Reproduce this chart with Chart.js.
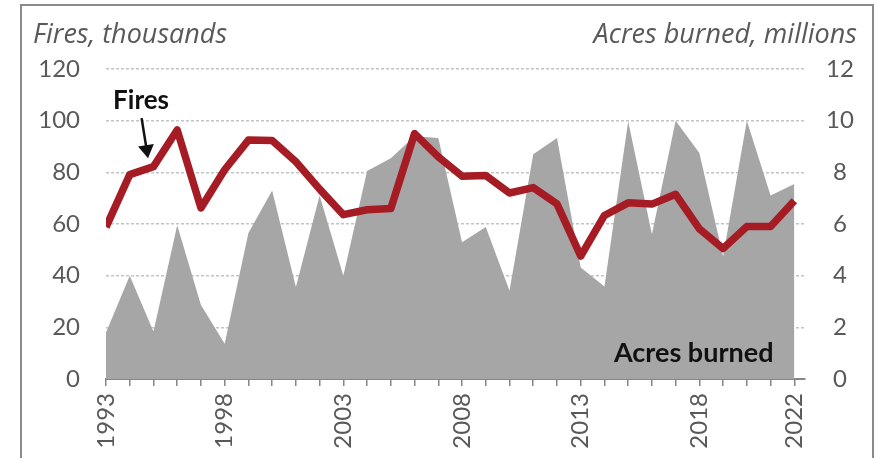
<!DOCTYPE html>
<html><head><meta charset="utf-8">
<script src="https://cdn.jsdelivr.net/npm/chart.js@4.4.1/dist/chart.umd.min.js"></script>
<style>html,body{margin:0;padding:0;background:#fff;}#wrap{width:882px;height:458px;}</style>
</head><body><div id="wrap"><canvas id="c" width="882" height="458"></canvas></div>
<script>
const years = [1993,1994,1995,1996,1997,1998,1999,2000,2001,2002,2003,2004,2005,2006,2007,2008,2009,2010,2011,2012,2013,2014,2015,2016,2017,2018,2019,2020,2021,2022];
const fires = [58.8,79.1,82.2,96.4,66.2,81.0,92.5,92.3,84.1,73.5,63.6,65.5,66.0,95.0,86.0,78.5,78.8,72.0,74.1,67.8,47.6,63.3,68.2,67.7,71.5,58.1,50.5,59.0,59.0,69.0];
const acres = [1.80,4.00,1.84,5.95,2.86,1.36,5.65,7.30,3.56,7.10,4.00,8.05,8.55,9.40,9.33,5.29,5.88,3.42,8.70,9.33,4.32,3.58,9.98,5.60,10.0,8.75,4.75,10.0,7.10,7.55];
const yearLabels = [1993,1998,2003,2008,2013,2018,2022];
const leftTicks = [0,20,40,60,80,100,120];
const rightTicks = [0,2,4,6,8,10,12];

const TXT = '#595959';
const annot = {
  id: 'annot',
  afterDraw(chart) {
    const ctx = chart.ctx, x = chart.scales.x, y = chart.scales.y;
    ctx.save();
    // outer frame
    ctx.strokeStyle = '#8a8a8a'; ctx.lineWidth = 2;
    ctx.strokeRect(21, 5, 852, 480);
    // axis titles
    ctx.fillStyle = TXT; ctx.textBaseline = 'alphabetic';
    ctx.font = 'italic 27px "Open Sans"';
    ctx.textAlign = 'left'; ctx.fillText('Fires, thousands', 33, 43);
    ctx.textAlign = 'right'; ctx.fillText('Acres burned, millions', 857, 43);
    // series labels
    ctx.fillStyle = '#111'; ctx.font = 'bold 26px Lato';
    ctx.textAlign = 'left';
    ctx.fillText('Fires', x.getPixelForValue(1993.3), y.getPixelForValue(104.5));
    ctx.font = 'bold 27px Lato';
    ctx.fillText('Acres burned', x.getPixelForValue(2014.4), y.getPixelForValue(6.5));
    // arrow
    const x0 = x.getPixelForValue(1994.5), y0 = y.getPixelForValue(101);
    const x1 = x.getPixelForValue(1994.77), y1 = y.getPixelForValue(85.5);
    const ang = Math.atan2(y1 - y0, x1 - x0);
    ctx.strokeStyle = '#111'; ctx.lineWidth = 2.5;
    ctx.beginPath(); ctx.moveTo(x0, y0);
    ctx.lineTo(x1 - 10 * Math.cos(ang), y1 - 10 * Math.sin(ang)); ctx.stroke();
    ctx.fillStyle = '#111'; ctx.beginPath();
    ctx.moveTo(x1, y1);
    ctx.lineTo(x1 - 13 * Math.cos(ang) + 8 * Math.sin(ang), y1 - 13 * Math.sin(ang) - 8 * Math.cos(ang));
    ctx.lineTo(x1 - 13 * Math.cos(ang) - 8 * Math.sin(ang), y1 - 13 * Math.sin(ang) + 8 * Math.cos(ang));
    ctx.closePath(); ctx.fill();
    ctx.restore();
  }
};

new Chart(document.getElementById('c'), {
  type: 'line',
  data: {
    datasets: [
      { label: 'Fires', data: years.map((v, i) => ({ x: v, y: fires[i] })), yAxisID: 'y',
        borderColor: '#a51c24', borderWidth: 7.5, pointRadius: 0, tension: 0, fill: false,
        borderJoinStyle: 'round', order: 0 },
      { label: 'Acres burned', data: years.map((v, i) => ({ x: v, y: acres[i] })), yAxisID: 'y1',
        backgroundColor: '#a6a6a6', borderWidth: 0, borderColor: 'rgba(0,0,0,0)', pointRadius: 0,
        tension: 0, fill: 'origin', order: 1 }
    ]
  },
  options: {
    responsive: false, animation: false, devicePixelRatio: 1,
    layout: { padding: { top: 69, left: 0, right: 0, bottom: 0 } },
    plugins: { legend: { display: false }, tooltip: { enabled: false } },
    scales: {
      x: {
        type: 'linear', min: 1993, max: 2022.45,
        afterBuildTicks: s => { s.ticks = years.map(v => ({ value: v })); },
        afterFit: s => { s.height = 79; },
        ticks: { autoSkip: false, minRotation: 90, maxRotation: 90, padding: 7,
          callback: v => yearLabels.includes(v) ? String(v) : '',
          font: { family: 'Lato', size: 24 }, color: TXT },
        grid: { drawOnChartArea: false, drawTicks: true, tickLength: 7, color: '#868686', lineWidth: 1.5 },
        border: { display: true, color: '#868686', width: 2 }
      },
      y: {
        position: 'left', min: 0, max: 120,
        afterBuildTicks: s => { s.ticks = leftTicks.map(v => ({ value: v })); },
        afterFit: s => { s.width = 106; },
        ticks: { padding: 26, font: { family: 'Lato', size: 24 }, color: TXT },
        grid: { drawTicks: false, color: '#c4c4c4', lineWidth: 1.5 },
        border: { display: false, dash: [3, 2] }
      },
      y1: {
        position: 'right', min: 0, max: 12,
        afterBuildTicks: s => { s.ticks = rightTicks.map(v => ({ value: v })); },
        afterFit: s => { s.width = 77; },
        ticks: { padding: 21, crossAlign: 'center', font: { family: 'Lato', size: 24 }, color: TXT },
        grid: { display: false, drawTicks: false },
        border: { display: false }
      }
    }
  },
  plugins: [annot]
});
</script></body></html>
